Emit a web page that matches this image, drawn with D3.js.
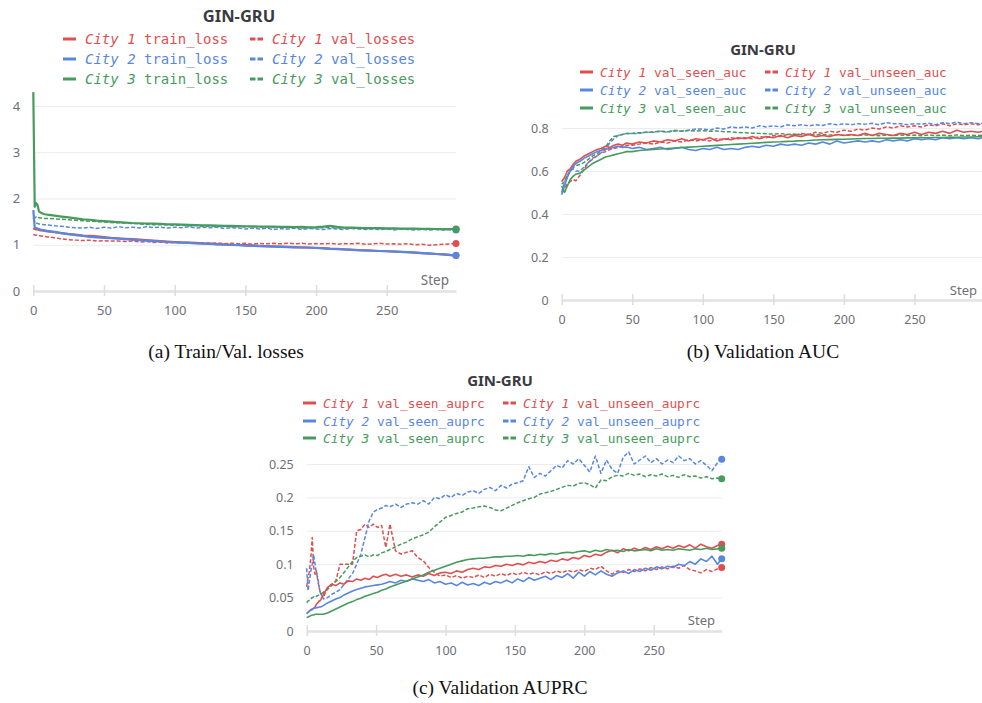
<!DOCTYPE html>
<html>
<head>
<meta charset="utf-8">
<script src="https://cdn.jsdelivr.net/npm/d3@7"></script>
<style>
  body { margin: 0; background: #fff; }
  svg { display: block; }
  text { white-space: pre; }
</style>
</head>
<body>
<div id="chart"></div>
<script>
// ---- data ----
var cities = ["City 1", "City 2", "City 3"];
var colors = ["#e04f50", "#5787e0", "#479b5e"];
var stepTicks = [0, 50, 100, 150, 200, 250];

// (a) losses
var lossSteps = [0,1,2,3,4,5,6,8,10,
  15,20,25,30,35,40,45,50,55,60,
  65,70,75,80,85,90,95,100,105,110,
  115,120,125,130,135,140,145,150,155,160,
  165,170,175,180,185,190,195,200,205,210,
  215,220,225,230,235,240,245,250,255,260,
  265,270,275,280,285,290,295,299];
var lossTicks = [0, 1, 2, 3, 4];

var city1TrainLoss = [1.36,1.34,1.33,1.33,1.32,1.31,1.31,1.3,1.29,
  1.27,1.25,1.23,1.22,1.2,1.19,1.18,1.165,1.15,1.14,
  1.13,1.12,1.11,1.1,1.09,1.08,1.07,1.06,1.05,1.045,
  1.04,1.03,1.025,1.015,1.01,1.0,0.995,0.99,0.985,0.975,
  0.97,0.965,0.96,0.955,0.95,0.945,0.94,0.935,0.925,0.915,
  0.91,0.9,0.895,0.885,0.88,0.875,0.865,0.86,0.855,0.845,
  0.84,0.83,0.82,0.815,0.8,0.79,0.775,0.765];
var city1ValLoss = [1.22,1.21,1.21,1.2,1.2,1.19,1.19,1.18,1.17,
  1.15,1.13,1.11,1.1,1.09,1.1,1.08,1.09,1.08,1.08,
  1.07,1.08,1.06,1.07,1.05,1.06,1.04,1.05,1.04,1.05,
  1.03,1.04,1.03,1.04,1.02,1.035,1.02,1.03,1.01,1.03,
  1.02,1.03,1.02,1.035,1.02,1.03,1.015,1.025,1.02,1.03,
  1.01,1.025,1.02,1.03,1.01,1.02,1.03,1.015,1.02,1.01,
  1.02,1.0,1.01,0.99,1.0,1.01,1.02,1.025];
var city2TrainLoss = [1.75,1.38,1.36,1.35,1.34,1.33,1.32,1.31,1.3,
  1.28,1.25,1.23,1.21,1.19,1.17,1.16,1.15,1.14,1.13,
  1.12,1.11,1.1,1.09,1.08,1.07,1.06,1.05,1.045,1.04,
  1.03,1.025,1.02,1.01,1.0,0.995,0.99,0.98,0.975,0.97,
  0.965,0.96,0.955,0.95,0.945,0.94,0.935,0.93,0.92,0.91,
  0.905,0.9,0.89,0.885,0.88,0.87,0.865,0.86,0.85,0.845,
  0.84,0.83,0.82,0.81,0.8,0.79,0.78,0.775];
var city2ValLoss = [1.58,1.5,1.47,1.46,1.45,1.45,1.44,1.43,1.43,
  1.41,1.4,1.38,1.37,1.36,1.38,1.35,1.38,1.36,1.39,
  1.37,1.38,1.36,1.39,1.37,1.38,1.36,1.38,1.37,1.39,
  1.36,1.38,1.37,1.38,1.35,1.37,1.36,1.34,1.36,1.34,
  1.36,1.33,1.35,1.34,1.36,1.33,1.35,1.34,1.33,1.35,
  1.34,1.33,1.35,1.34,1.33,1.34,1.33,1.34,1.32,1.34,
  1.33,1.32,1.33,1.32,1.33,1.32,1.325,1.32];
var city3TrainLoss = [4.3,1.82,1.9,1.86,1.72,1.7,1.68,1.66,1.65,
  1.63,1.61,1.59,1.57,1.55,1.54,1.52,1.51,1.5,1.49,
  1.48,1.47,1.465,1.46,1.455,1.45,1.44,1.44,1.435,1.43,
  1.425,1.42,1.42,1.415,1.41,1.41,1.405,1.4,1.4,1.395,
  1.39,1.39,1.385,1.385,1.38,1.385,1.375,1.38,1.39,1.41,
  1.385,1.37,1.37,1.365,1.36,1.36,1.36,1.355,1.355,1.35,
  1.35,1.35,1.345,1.345,1.34,1.34,1.34,1.34];
var city3ValLoss = [1.55,1.58,1.6,1.58,1.59,1.58,1.58,1.57,1.57,
  1.56,1.55,1.54,1.53,1.52,1.51,1.5,1.49,1.48,1.475,
  1.47,1.46,1.45,1.44,1.435,1.43,1.43,1.42,1.42,1.41,
  1.415,1.4,1.405,1.395,1.4,1.39,1.39,1.385,1.39,1.38,
  1.385,1.375,1.38,1.37,1.38,1.36,1.375,1.365,1.37,1.375,
  1.36,1.365,1.355,1.36,1.35,1.355,1.35,1.345,1.35,1.34,
  1.345,1.34,1.34,1.335,1.34,1.33,1.335,1.335];

// (b) AUC
var aucSteps = [0,2,4,6,8,10,
  13,16,19,22,25,28,31,34,37,40,43,46,
  50,55,60,65,70,75,80,85,90,95,
  100,105,110,115,120,125,130,135,140,145,
  150,155,160,165,170,175,180,185,190,195,
  200,205,210,215,220,225,230,235,240,245,
  250,255,260,265,270,275,280,285,290,295,299];
var aucTicks = [0, 0.2, 0.4, 0.6, 0.8];

var city1SeenAuc = [0.55,0.57,0.6,0.61,0.63,0.645,
  0.655,0.67,0.68,0.69,0.7,0.705,0.715,0.71,0.72,0.725,0.72,0.73,
  0.725,0.735,0.73,0.74,0.735,0.745,0.74,0.75,0.74,0.75,
  0.745,0.755,0.74,0.75,0.745,0.755,0.75,0.76,0.75,0.76,
  0.755,0.765,0.755,0.765,0.76,0.77,0.76,0.765,0.76,0.77,
  0.765,0.77,0.765,0.775,0.765,0.775,0.77,0.765,0.775,0.77,
  0.78,0.77,0.78,0.775,0.785,0.775,0.79,0.78,0.785,0.78,0.785];
var city1UnseenAuc = [0.5,0.52,0.54,0.55,0.56,0.555,
  0.58,0.61,0.64,0.66,0.67,0.685,0.69,0.7,0.705,0.71,0.715,0.72,
  0.72,0.725,0.73,0.725,0.735,0.73,0.74,0.735,0.745,0.74,
  0.745,0.74,0.75,0.745,0.755,0.75,0.755,0.75,0.76,0.755,
  0.765,0.76,0.77,0.765,0.775,0.77,0.78,0.775,0.785,0.78,
  0.79,0.785,0.795,0.79,0.8,0.795,0.805,0.8,0.81,0.805,
  0.81,0.805,0.815,0.81,0.82,0.81,0.82,0.815,0.82,0.815,0.82];
var city2SeenAuc = [0.49,0.53,0.57,0.6,0.62,0.635,
  0.645,0.66,0.67,0.68,0.69,0.695,0.7,0.705,0.71,0.715,0.71,0.712,
  0.705,0.71,0.7,0.705,0.71,0.7,0.705,0.71,0.7,0.695,
  0.705,0.7,0.71,0.7,0.705,0.7,0.71,0.715,0.71,0.72,
  0.715,0.725,0.72,0.725,0.72,0.73,0.725,0.735,0.725,0.74,
  0.73,0.735,0.74,0.735,0.74,0.735,0.745,0.74,0.745,0.74,
  0.75,0.745,0.75,0.745,0.755,0.75,0.755,0.75,0.755,0.75,0.755];
var city2UnseenAuc = [0.5,0.55,0.58,0.6,0.61,0.6,
  0.6,0.62,0.64,0.655,0.67,0.685,0.7,0.73,0.75,0.765,0.77,0.775,
  0.775,0.775,0.78,0.78,0.785,0.78,0.79,0.785,0.79,0.795,
  0.795,0.79,0.8,0.795,0.805,0.8,0.805,0.8,0.81,0.805,
  0.81,0.805,0.815,0.81,0.815,0.81,0.815,0.812,0.82,0.815,
  0.82,0.815,0.82,0.818,0.822,0.815,0.825,0.82,0.82,0.815,
  0.82,0.818,0.822,0.815,0.825,0.82,0.828,0.82,0.825,0.82,0.822];
var city3SeenAuc = [0.53,0.5,0.53,0.56,0.575,0.585,
  0.59,0.605,0.62,0.635,0.645,0.655,0.665,0.67,0.675,0.68,0.685,0.69,
  0.69,0.695,0.698,0.7,0.702,0.705,0.707,0.709,0.711,0.713,
  0.715,0.717,0.719,0.721,0.723,0.725,0.727,0.729,0.731,0.733,
  0.735,0.736,0.738,0.739,0.741,0.742,0.744,0.745,0.746,0.747,
  0.748,0.749,0.75,0.751,0.751,0.752,0.752,0.753,0.753,0.754,
  0.754,0.755,0.755,0.756,0.756,0.757,0.757,0.758,0.758,0.759,0.76];
var city3UnseenAuc = [0.54,0.55,0.58,0.6,0.615,0.625,
  0.63,0.64,0.655,0.67,0.68,0.695,0.71,0.74,0.76,0.765,0.77,0.775,
  0.775,0.778,0.78,0.782,0.785,0.783,0.787,0.785,0.788,0.786,
  0.787,0.785,0.786,0.783,0.782,0.779,0.778,0.776,0.775,0.773,
  0.772,0.774,0.77,0.772,0.769,0.771,0.768,0.77,0.767,0.769,
  0.766,0.768,0.765,0.768,0.766,0.764,0.767,0.765,0.768,0.765,
  0.767,0.764,0.768,0.765,0.767,0.764,0.768,0.765,0.767,0.765,0.766];

// (c) AUPRC
var prSteps = [0,1,2,3,4,5,6,7,8,9,10,
  12,15,18,21,24,27,30,33,36,39,42,45,48,51,54,57,60,
  64,68,72,76,80,84,88,92,96,100,
  104,108,112,116,120,124,128,132,136,140,
  144,148,152,156,160,164,168,172,176,180,
  184,188,192,196,200,204,208,212,216,220,
  224,228,232,236,240,244,248,252,256,260,
  264,268,272,276,280,284,288,292,296,299];
var prTicks = [0, 0.05, 0.1, 0.15, 0.2, 0.25];

var city1SeenPr = [0.026,0.028,0.03,0.032,0.033,0.034,0.036,0.04,0.042,0.045,0.046,
  0.055,0.065,0.07,0.068,0.072,0.07,0.075,0.074,0.078,0.076,0.079,0.077,0.082,0.08,0.083,0.085,0.082,
  0.085,0.082,0.084,0.081,0.084,0.082,0.086,0.083,0.087,0.088,
  0.086,0.09,0.088,0.092,0.094,0.092,0.096,0.095,0.098,0.097,
  0.1,0.098,0.101,0.099,0.103,0.101,0.104,0.102,0.106,0.104,
  0.108,0.106,0.11,0.108,0.113,0.111,0.115,0.113,0.118,0.121,
  0.117,0.123,0.12,0.124,0.121,0.125,0.122,0.126,0.123,0.127,
  0.124,0.128,0.125,0.129,0.124,0.13,0.126,0.124,0.128,0.13];
var city1UnseenPr = [0.066,0.08,0.09,0.11,0.14,0.096,0.085,0.09,0.075,0.065,0.056,
  0.05,0.065,0.07,0.075,0.1,0.1,0.1,0.1,0.15,0.152,0.16,0.155,0.16,0.155,0.158,0.125,0.16,
  0.12,0.115,0.118,0.12,0.11,0.105,0.095,0.088,0.082,0.084,
  0.08,0.083,0.079,0.082,0.08,0.084,0.08,0.085,0.082,0.086,
  0.083,0.087,0.084,0.088,0.085,0.087,0.084,0.089,0.086,0.09,
  0.087,0.091,0.088,0.092,0.089,0.094,0.092,0.097,0.09,0.085,
  0.09,0.088,0.092,0.089,0.093,0.09,0.095,0.092,0.096,0.093,
  0.097,0.094,0.098,0.092,0.09,0.087,0.092,0.089,0.093,0.095];
var city2SeenPr = [0.026,0.028,0.03,0.031,0.032,0.034,0.034,0.035,0.035,0.036,0.036,
  0.038,0.042,0.045,0.048,0.05,0.054,0.057,0.06,0.062,0.064,0.066,0.067,0.068,0.069,0.07,0.072,0.074,
  0.072,0.076,0.074,0.078,0.076,0.074,0.077,0.072,0.074,0.07,
  0.072,0.068,0.073,0.069,0.071,0.068,0.073,0.07,0.074,0.072,
  0.076,0.072,0.078,0.074,0.08,0.076,0.079,0.082,0.077,0.083,
  0.08,0.086,0.079,0.088,0.082,0.089,0.084,0.09,0.085,0.082,
  0.087,0.09,0.086,0.092,0.089,0.094,0.091,0.096,0.093,0.097,
  0.095,0.1,0.098,0.104,0.1,0.108,0.104,0.112,0.1,0.108];
var city2UnseenPr = [0.094,0.06,0.075,0.09,0.1,0.114,0.1,0.086,0.08,0.065,0.056,
  0.048,0.05,0.055,0.058,0.062,0.07,0.078,0.086,0.1,0.115,0.14,0.165,0.178,0.182,0.184,0.188,0.186,
  0.19,0.185,0.19,0.192,0.19,0.195,0.19,0.2,0.198,0.204,
  0.2,0.206,0.203,0.208,0.21,0.206,0.212,0.215,0.21,0.218,
  0.214,0.22,0.222,0.225,0.246,0.23,0.236,0.232,0.24,0.248,
  0.244,0.255,0.25,0.258,0.248,0.238,0.262,0.236,0.256,0.242,
  0.236,0.26,0.268,0.25,0.256,0.262,0.252,0.258,0.25,0.256,
  0.252,0.262,0.255,0.258,0.25,0.255,0.248,0.24,0.252,0.257];
var city3SeenPr = [0.02,0.021,0.022,0.023,0.024,0.024,0.025,0.025,0.025,0.025,0.025,
  0.025,0.027,0.03,0.033,0.036,0.039,0.042,0.044,0.047,0.049,0.052,0.054,0.056,0.058,0.061,0.063,0.066,
  0.069,0.072,0.075,0.078,0.081,0.084,0.088,0.091,0.094,0.097,
  0.1,0.103,0.105,0.107,0.108,0.109,0.109,0.11,0.111,0.111,
  0.112,0.112,0.113,0.112,0.114,0.113,0.115,0.114,0.116,0.115,
  0.117,0.118,0.117,0.119,0.12,0.118,0.121,0.119,0.122,0.12,
  0.121,0.119,0.122,0.12,0.121,0.122,0.12,0.123,0.121,0.122,
  0.121,0.123,0.122,0.121,0.123,0.122,0.124,0.122,0.123,0.124];
var city3UnseenPr = [0.042,0.045,0.046,0.048,0.05,0.051,0.05,0.052,0.053,0.054,0.055,
  0.058,0.062,0.068,0.074,0.08,0.088,0.096,0.104,0.11,0.112,0.114,0.111,0.114,0.113,0.117,0.119,0.122,
  0.126,0.13,0.133,0.138,0.141,0.144,0.148,0.156,0.163,0.17,
  0.173,0.176,0.178,0.183,0.184,0.186,0.187,0.185,0.181,0.18,
  0.184,0.188,0.192,0.195,0.198,0.2,0.205,0.207,0.209,0.212,
  0.215,0.218,0.217,0.221,0.222,0.219,0.214,0.226,0.225,0.231,
  0.233,0.232,0.236,0.233,0.235,0.231,0.234,0.232,0.235,0.231,
  0.233,0.23,0.234,0.231,0.232,0.229,0.231,0.228,0.229,0.228];

// ---- canvas ----
var w = 982, h = 703;
var svg = d3.select("#chart").append("svg")
  .attr("width", w).attr("height", h);

var tickColor = "#6f6f78";
var sans = "'Noto Sans', 'Open Sans', sans-serif";
var mono = "'DejaVu Sans Mono', 'Liberation Mono', monospace";

// draw one wandb-style panel
function drawPanel(p) {
  var g = svg.append("g");
  var x = d3.scaleLinear().domain([0, 299]).range(p.xRange);
  var y = d3.scaleLinear().domain(p.yDomain).range(p.yRange);
  var left = p.xRange[0];

  // y axis + grid
  var yAxis = d3.axisLeft(y)
    .tickValues(p.yTicks)
    .tickSize(-(p.gridRight - left))
    .tickPadding(13)
    .tickFormat(d => String(+d.toFixed(2)));
  g.append("g")
    .attr("transform", "translate(" + left + ",0)")
    .call(yAxis)
    .call(a => a.select(".domain").remove())
    .call(a => a.selectAll(".tick line").attr("stroke", "#ececec"))
    .call(a => a.selectAll(".tick text").attr("fill", tickColor))
    .attr("font-family", sans).attr("font-size", p.tickSize);

  // x axis
  var xAxis = d3.axisBottom(x)
    .tickValues(stepTicks)
    .tickSizeInner(5).tickSizeOuter(0)
    .tickPadding(10);
  g.append("g")
    .attr("transform", "translate(0," + p.yRange[0] + ")")
    .call(xAxis)
    .call(a => a.select(".domain").attr("stroke", "#e2e2e2").attr("stroke-width", 2.5))
    .call(a => a.selectAll(".tick line").attr("stroke", "#dedede").attr("stroke-width", 1.5).attr("y1", -6))
    .call(a => a.selectAll(".tick text").attr("fill", tickColor))
    .attr("font-family", sans).attr("font-size", p.tickSize);

  g.append("text")
    .attr("x", p.stepPos[0]).attr("y", p.stepPos[1])
    .attr("text-anchor", "end")
    .attr("font-family", sans).attr("font-size", p.tickSize + 0.5)
    .attr("fill", tickColor)
    .text("Step");

  var line = d3.line().x(d => x(d[0])).y(d => y(d[1]));

  // lines: dashed (unseen / val) first, then solid
  [1, 0].forEach(function(k) {
    p.series.forEach(function(pair, i) {
      var pts = d3.zip(p.steps, pair[k]);
      g.append("path")
        .datum(pts)
        .attr("fill", "none")
        .attr("stroke", colors[i])
        .attr("stroke-width", k === 0 ? p.solidWidth : 1.5)
        .attr("stroke-dasharray", k === 1 ? "4,2" : null)
        .attr("stroke-linejoin", "round")
        .attr("d", line);
      if (p.dots) {
        var last = pts[pts.length - 1];
        g.append("circle")
          .attr("cx", x(last[0])).attr("cy", y(last[1]))
          .attr("r", 3.5).attr("fill", colors[i]);
      }
    });
  });

  // title
  g.append("text")
    .attr("x", p.titlePos[0]).attr("y", p.titlePos[1])
    .attr("text-anchor", "middle").attr("dominant-baseline", "central")
    .attr("font-family", sans).attr("font-weight", "bold")
    .attr("font-size", p.titleSize).attr("fill", "#3a3a42")
    .text("GIN-GRU");

  // legend
  cities.forEach(function(c, i) {
    var ly = p.legendY[i];
    [0, 1].forEach(function(k) {
      var lx = p.legendX[k];
      g.append("line")
        .attr("x1", lx).attr("x2", lx + 13)
        .attr("y1", ly).attr("y2", ly)
        .attr("stroke", colors[i]).attr("stroke-width", 3)
        .attr("stroke-dasharray", k === 1 ? "5.5,2" : null);
      var t = g.append("text")
        .attr("x", lx + p.legendGap).attr("y", ly)
        .attr("dominant-baseline", "central")
        .attr("font-family", mono).attr("font-size", p.legendSize)
        .attr("fill", colors[i]);
      t.append("tspan").attr("font-style", "italic").text(c);
      t.append("tspan").text(" " + p.metrics[k]);
    });
  });
}

drawPanel({
  steps: lossSteps,
  series: [[city1TrainLoss, city1ValLoss], [city2TrainLoss, city2ValLoss], [city3TrainLoss, city3ValLoss]],
  metrics: ["train_loss", "val_losses"],
  yDomain: [0, 4], yTicks: lossTicks,
  xRange: [33.3, 456], yRange: [291, 106], gridRight: 456,
  tickSize: 13, solidWidth: 2.2, dots: true,
  stepPos: [449, 285],
  titlePos: [239, 15], titleSize: 16.5,
  legendX: [63, 250], legendY: [39, 59, 79], legendGap: 22, legendSize: 14
});

drawPanel({
  steps: aucSteps,
  series: [[city1SeenAuc, city1UnseenAuc], [city2SeenAuc, city2UnseenAuc], [city3SeenAuc, city3UnseenAuc]],
  metrics: ["val_seen_auc", "val_unseen_auc"],
  yDomain: [0, 0.8], yTicks: aucTicks,
  xRange: [561.7, 983.6], yRange: [300, 128], gridRight: 982,
  tickSize: 12.5, solidWidth: 1.6, dots: false,
  stepPos: [977, 295],
  titlePos: [763, 49], titleSize: 15,
  legendX: [580, 765], legendY: [72, 90, 108], legendGap: 20, legendSize: 12.8
});

drawPanel({
  steps: prSteps,
  series: [[city1SeenPr, city1UnseenPr], [city2SeenPr, city2UnseenPr], [city3SeenPr, city3UnseenPr]],
  metrics: ["val_seen_auprc", "val_unseen_auprc"],
  yDomain: [0, 0.25], yTicks: prTicks,
  xRange: [306.7, 721.7], yRange: [631, 464], gridRight: 721.7,
  tickSize: 12.5, solidWidth: 1.6, dots: true,
  stepPos: [715, 625],
  titlePos: [500, 380], titleSize: 15,
  legendX: [303, 503], legendY: [403, 421, 438], legendGap: 20, legendSize: 12.8
});

// sub-figure captions
var captions = ["(a) Train/Val. losses", "(b) Validation AUC", "(c) Validation AUPRC"];
var capPos = [[226, 358], [763, 358], [500, 694]];
captions.forEach(function(c, i) {
  svg.append("text")
    .attr("x", capPos[i][0]).attr("y", capPos[i][1])
    .attr("text-anchor", "middle")
    .attr("font-family", "'Liberation Serif', 'Times New Roman', serif")
    .attr("font-size", 19.5).attr("fill", "#111")
    .text(c);
});
</script>
</body>
</html>
